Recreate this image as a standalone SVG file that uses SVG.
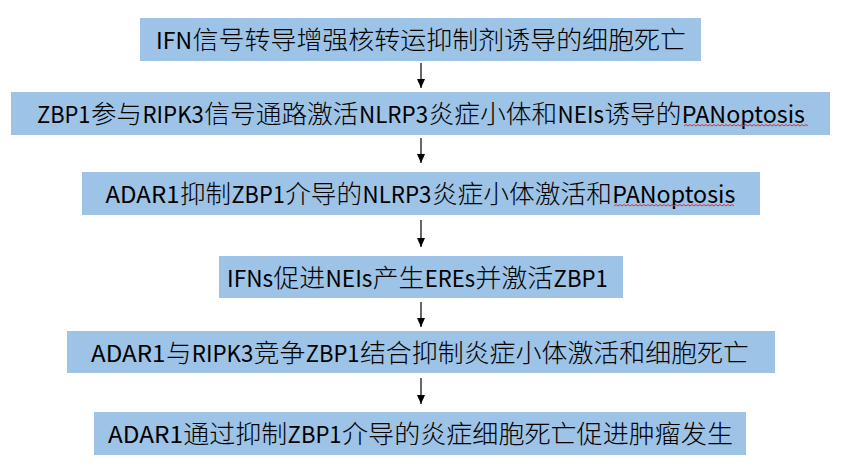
<svg xmlns="http://www.w3.org/2000/svg" width="848" height="466" viewBox="0 0 848 466">
<style>
.box{fill:#9DC3E6;stroke:none}
text{font-family:"Noto Sans CJK SC","Liberation Sans",sans-serif;fill:#000}
.h{font-size:25.4px;font-weight:300}
.l{font-size:23.5px;font-weight:400}
.c{stroke:#000;stroke-width:1.2;fill:none}
.sq{stroke:#E03030;stroke-width:1;fill:none}
</style>
<defs>
<marker id="ah" markerUnits="userSpaceOnUse" markerWidth="10" markerHeight="10" viewBox="0 0 10 10" refX="9" refY="5" orient="auto">
<path d="M0,1 L9,5 L0,9 Z" fill="#000"/>
</marker>
</defs>
<rect width="848" height="466" fill="#fff"/>
<g id="connectors">
<line class="c" x1="421" y1="63" x2="421" y2="88" marker-end="url(#ah)"/>
<line class="c" x1="421" y1="138" x2="421" y2="163" marker-end="url(#ah)"/>
<line class="c" x1="421" y1="220" x2="421" y2="247" marker-end="url(#ah)"/>
<line class="c" x1="421" y1="302" x2="421" y2="327" marker-end="url(#ah)"/>
<line class="c" x1="421" y1="378" x2="421" y2="404" marker-end="url(#ah)"/>
</g>
<g id="n1">
<rect class="box" x="140" y="18" width="561" height="43"/>
<text class="l" x="156" y="48.5" textLength="36" lengthAdjust="spacingAndGlyphs">IFN</text>
<text class="h" x="192.5" y="48.5" textLength="493.5" lengthAdjust="spacingAndGlyphs">信号转导增强核转运抑制剂诱导的细胞死亡</text>
</g>
<g id="n2">
<rect class="box" x="11" y="92" width="819" height="43"/>
<text class="l" x="37" y="122.5" textLength="53.5" lengthAdjust="spacingAndGlyphs">ZBP1</text>
<text class="h" x="91" y="122.5" textLength="51" lengthAdjust="spacingAndGlyphs">参与</text>
<text class="l" x="142.5" y="122.5" textLength="61.3" lengthAdjust="spacingAndGlyphs">RIPK3</text>
<text class="h" x="204.2" y="122.5" textLength="154.4" lengthAdjust="spacingAndGlyphs">信号通路激活</text>
<text class="l" x="359" y="122.5" textLength="69.1" lengthAdjust="spacingAndGlyphs">NLRP3</text>
<text class="h" x="428.5" y="122.5" textLength="128.6" lengthAdjust="spacingAndGlyphs">炎症小体和</text>
<text class="l" x="557.5" y="122.5" textLength="46.5" lengthAdjust="spacingAndGlyphs">NEIs</text>
<text class="h" x="604.4" y="122.5" textLength="77" lengthAdjust="spacingAndGlyphs">诱导的</text>
<text class="l" x="681.8" y="122.5" textLength="123.2" lengthAdjust="spacingAndGlyphs">PANoptosis</text>
<path class="sq" d="M684,126 l2,-1.5 l2,1.5 l2,-1.5 l2,1.5 l2,-1.5 l2,1.5 l2,-1.5 l2,1.5 l2,-1.5 l2,1.5 l2,-1.5 l2,1.5 l2,-1.5 l2,1.5 l2,-1.5 l2,1.5 l2,-1.5 l2,1.5 l2,-1.5 l2,1.5 l2,-1.5 l2,1.5 l2,-1.5 l2,1.5 l2,-1.5 l2,1.5 l2,-1.5 l2,1.5 l2,-1.5 l2,1.5 l2,-1.5 l2,1.5 l2,-1.5 l2,1.5 l2,-1.5 l2,1.5 l2,-1.5 l2,1.5 l2,-1.5 l2,1.5 l2,-1.5 l2,1.5 l2,-1.5 l2,1.5 l2,-1.5 l2,1.5 l2,-1.5 l2,1.5 l2,-1.5 l2,1.5 l2,-1.5 l2,1.5 l2,-1.5 l2,1.5 l2,-1.5 l2,1.5 l2,-1.5 l2,1.5 l2,-1.5 l2,1.5 l2,-1.5 l2,1.5"/>
</g>
<g id="n3">
<rect class="box" x="82" y="172" width="678" height="43"/>
<text class="l" x="105.5" y="202.5" textLength="74" lengthAdjust="spacingAndGlyphs">ADAR1</text>
<text class="h" x="179.9" y="202.5" textLength="51.1" lengthAdjust="spacingAndGlyphs">抑制</text>
<text class="l" x="231.4" y="202.5" textLength="53.4" lengthAdjust="spacingAndGlyphs">ZBP1</text>
<text class="h" x="285.2" y="202.5" textLength="76.9" lengthAdjust="spacingAndGlyphs">介导的</text>
<text class="l" x="362.5" y="202.5" textLength="69" lengthAdjust="spacingAndGlyphs">NLRP3</text>
<text class="h" x="431.9" y="202.5" textLength="180" lengthAdjust="spacingAndGlyphs">炎症小体激活和</text>
<text class="l" x="612.3" y="202.5" textLength="123" lengthAdjust="spacingAndGlyphs">PANoptosis</text>
<path class="sq" d="M614,206 l2,-1.5 l2,1.5 l2,-1.5 l2,1.5 l2,-1.5 l2,1.5 l2,-1.5 l2,1.5 l2,-1.5 l2,1.5 l2,-1.5 l2,1.5 l2,-1.5 l2,1.5 l2,-1.5 l2,1.5 l2,-1.5 l2,1.5 l2,-1.5 l2,1.5 l2,-1.5 l2,1.5 l2,-1.5 l2,1.5 l2,-1.5 l2,1.5 l2,-1.5 l2,1.5 l2,-1.5 l2,1.5 l2,-1.5 l2,1.5 l2,-1.5 l2,1.5 l2,-1.5 l2,1.5 l2,-1.5 l2,1.5 l2,-1.5 l2,1.5 l2,-1.5 l2,1.5 l2,-1.5 l2,1.5 l2,-1.5 l2,1.5 l2,-1.5 l2,1.5 l2,-1.5 l2,1.5 l2,-1.5 l2,1.5 l2,-1.5 l2,1.5 l2,-1.5 l2,1.5 l2,-1.5 l2,1.5 l2,-1.5 l2,1.5"/>
</g>
<g id="n4">
<rect class="box" x="219" y="256" width="404" height="42"/>
<text class="l" x="227" y="286.5" textLength="46.1" lengthAdjust="spacingAndGlyphs">IFNs</text>
<text class="h" x="273.5" y="286.5" textLength="51.6" lengthAdjust="spacingAndGlyphs">促进</text>
<text class="l" x="325.5" y="286.5" textLength="46.9" lengthAdjust="spacingAndGlyphs">NEIs</text>
<text class="h" x="372.8" y="286.5" textLength="51.6" lengthAdjust="spacingAndGlyphs">产生</text>
<text class="l" x="424.8" y="286.5" textLength="50.4" lengthAdjust="spacingAndGlyphs">EREs</text>
<text class="h" x="475.6" y="286.5" textLength="77.6" lengthAdjust="spacingAndGlyphs">并激活</text>
<text class="l" x="553.6" y="286.5" textLength="54.3" lengthAdjust="spacingAndGlyphs">ZBP1</text>
</g>
<g id="n5">
<rect class="box" x="67" y="331" width="708" height="42"/>
<text class="l" x="91" y="361.5" textLength="74.5" lengthAdjust="spacingAndGlyphs">ADAR1</text>
<text class="h" x="165.9" y="361.5" textLength="25.5" lengthAdjust="spacingAndGlyphs">与</text>
<text class="l" x="191.8" y="361.5" textLength="61.6" lengthAdjust="spacingAndGlyphs">RIPK3</text>
<text class="h" x="253.8" y="361.5" textLength="51.5" lengthAdjust="spacingAndGlyphs">竞争</text>
<text class="l" x="305.7" y="361.5" textLength="53.8" lengthAdjust="spacingAndGlyphs">ZBP1</text>
<text class="h" x="359.9" y="361.5" textLength="389.1" lengthAdjust="spacingAndGlyphs">结合抑制炎症小体激活和细胞死亡</text>
</g>
<g id="n6">
<rect class="box" x="94" y="412" width="652" height="43"/>
<text class="l" x="108" y="442.5" textLength="74.9" lengthAdjust="spacingAndGlyphs">ADAR1</text>
<text class="h" x="183.3" y="442.5" textLength="103.9" lengthAdjust="spacingAndGlyphs">通过抑制</text>
<text class="l" x="287.6" y="442.5" textLength="54" lengthAdjust="spacingAndGlyphs">ZBP1</text>
<text class="h" x="342" y="442.5" textLength="391" lengthAdjust="spacingAndGlyphs">介导的炎症细胞死亡促进肿瘤发生</text>
</g>
</svg>
